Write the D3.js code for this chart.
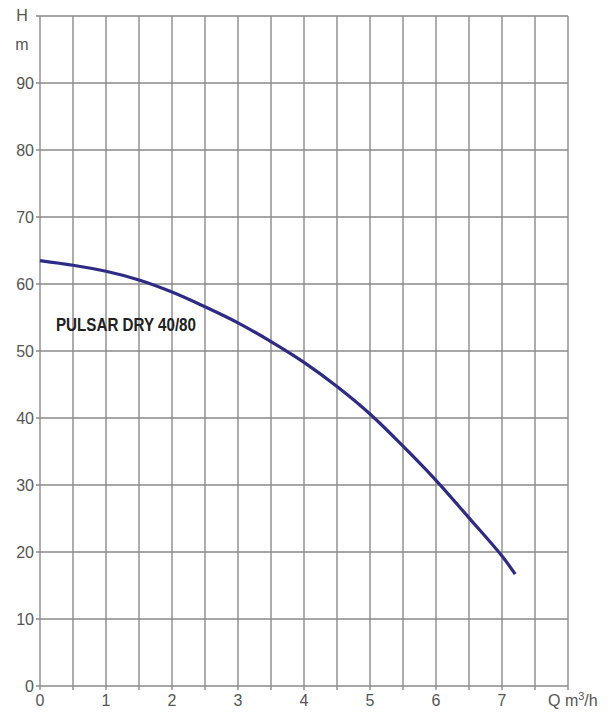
<!DOCTYPE html>
<html>
<head>
<meta charset="utf-8">
<script src="https://cdn.jsdelivr.net/npm/d3@7"></script>
<style>
  html, body { margin: 0; padding: 0; background: #fff; }
  svg { display: block; }
</style>
</head>
<body>
<svg id="chart" width="611" height="716"></svg>
<script>
// ---- data ----
const flowQ = [0, 0.5, 1, 1.5, 2, 2.5, 3, 3.5, 4, 4.5, 5, 5.5, 6, 6.5, 7, 7.2];
const headH = [63.5, 62.8, 61.9, 60.6, 58.8, 56.6, 54.2, 51.4, 48.3, 44.7, 40.6, 35.8, 30.7, 25.1, 19.4, 16.7];
const xTickLabels = [0, 1, 2, 3, 4, 5, 6, 7];
const yTickLabels = [0, 10, 20, 30, 40, 50, 60, 70, 80, 90];
const xGrid = [0, 0.5, 1, 1.5, 2, 2.5, 3, 3.5, 4, 4.5, 5, 5.5, 6, 6.5, 7, 7.5, 8];
const yGrid = [0, 10, 20, 30, 40, 50, 60, 70, 80, 90, 100];
const seriesName = "PULSAR DRY 40/80";

(function () {
// ---- layout ----
const svg = d3.select("#chart");
const pLeft = 40, pRight = 568, pTop = 16, pBottom = 686;
const x = d3.scaleLinear().domain([0, 8]).range([pLeft, pRight]);
const y = d3.scaleLinear().domain([0, 100]).range([pBottom, pTop]);

const gridColor = "#8a8a8a";
const textColor = "#555";
const font = "'Liberation Sans', Arial, sans-serif";

// grid
svg.append("g").selectAll("line").data(xGrid).join("line")
  .attr("x1", d => x(d)).attr("x2", d => x(d))
  .attr("y1", pTop).attr("y2", pBottom + 4)
  .attr("stroke", gridColor).attr("stroke-width", 1.4);
svg.append("g").selectAll("line").data(yGrid).join("line")
  .attr("x1", pLeft - 4).attr("x2", pRight)
  .attr("y1", d => y(d)).attr("y2", d => y(d))
  .attr("stroke", gridColor).attr("stroke-width", 1.4);

// axes labels
svg.append("g").selectAll("text").data(yTickLabels).join("text")
  .attr("x", pLeft - 6).attr("y", d => y(d))
  .attr("dy", "0.36em")
  .attr("text-anchor", "end")
  .attr("font-family", font).attr("font-size", 16)
  .attr("fill", textColor)
  .text(d => d);
svg.append("g").selectAll("text").data(xTickLabels).join("text")
  .attr("x", d => x(d)).attr("y", pBottom + 14)
  .attr("dy", "0.36em")
  .attr("text-anchor", "middle")
  .attr("font-family", font).attr("font-size", 16)
  .attr("fill", textColor)
  .text(d => d);

// unit labels
svg.append("text").attr("x", 22).attr("y", 15).attr("dy", "0.36em")
  .attr("text-anchor", "middle").attr("font-family", font).attr("font-size", 16)
  .attr("fill", textColor).text("H");
svg.append("text").attr("x", 22).attr("y", 44).attr("dy", "0.36em")
  .attr("text-anchor", "middle").attr("font-family", font).attr("font-size", 16)
  .attr("fill", textColor).text("m");
const q = svg.append("text").attr("x", 548).attr("y", pBottom + 14).attr("dy", "0.36em")
  .attr("font-family", font).attr("font-size", 16).attr("fill", textColor);
q.append("tspan").text("Q m");
q.append("tspan").attr("font-size", 11).attr("dy", "-0.5em").text("3");
q.append("tspan").attr("dy", "0.35em").text("/h");

// curve
const pts = flowQ.map((d, i) => [d, headH[i]]);
svg.append("path")
  .datum(pts)
  .attr("fill", "none")
  .attr("stroke", "#2f2a86")
  .attr("stroke-width", 3.2)
  .attr("d", d3.line().x(d => x(d[0])).y(d => y(d[1])).curve(d3.curveCatmullRom.alpha(0.5)));

// series label
svg.append("text")
  .attr("x", 56).attr("y", 331)
  .attr("font-family", font).attr("font-size", 18).attr("font-weight", "bold")
  .attr("textLength", 140).attr("lengthAdjust", "spacingAndGlyphs")
  .attr("fill", "#222")
  .text(seriesName);
})();
</script>
</body>
</html>
